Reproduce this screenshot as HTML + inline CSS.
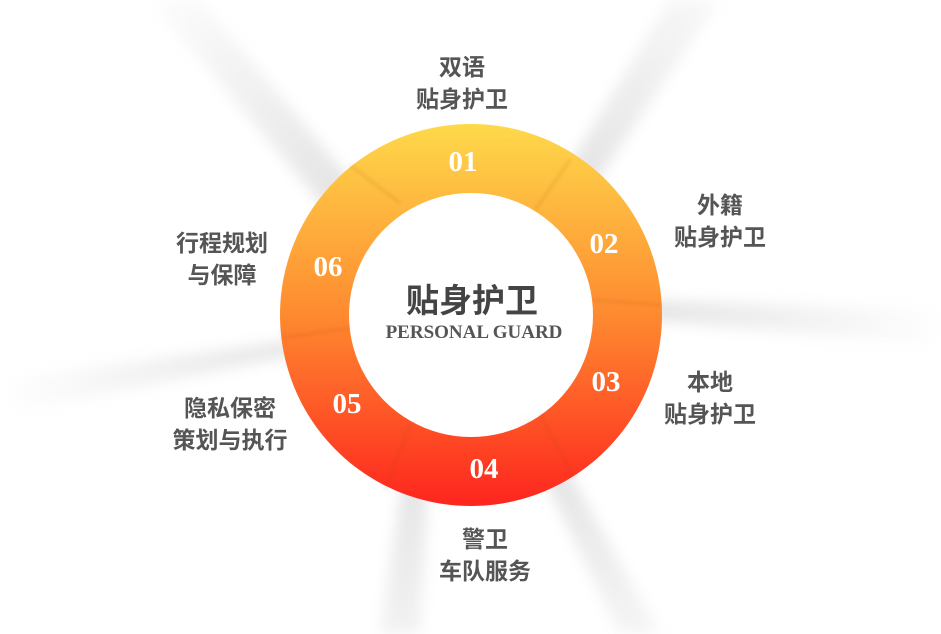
<!DOCTYPE html>
<html><head><meta charset="utf-8"><style>
html,body{margin:0;padding:0;background:#fff;}
.w{position:relative;width:941px;height:634px;overflow:hidden;background:#fff;}
svg{position:absolute;left:0;top:0;}
.l{position:absolute;font-family:"Liberation Sans","Noto Sans CJK SC",sans-serif;font-weight:bold;font-size:23px;color:#555;text-align:center;line-height:32px;transform:translateX(-50%);white-space:nowrap;}
</style></head><body><div class="w">
<svg width="941" height="634" viewBox="0 0 941 634">
<defs>
<filter id="b" x="-50%" y="-50%" width="200%" height="200%"><feGaussianBlur stdDeviation="7"/></filter>
<filter id="b2"><feGaussianBlur stdDeviation="1.5"/></filter>
<radialGradient id="rg" cx="471" cy="315" r="480" gradientUnits="userSpaceOnUse">
<stop offset="0.35" stop-color="#fff"/><stop offset="1" stop-color="#000"/></radialGradient>
<mask id="m"><rect width="941" height="634" fill="url(#rg)"/></mask>
<linearGradient id="g" x1="0" y1="0" x2="0" y2="1">
<stop offset="0" stop-color="#fed94a"/><stop offset="0.5" stop-color="#fe8a30"/><stop offset="1" stop-color="#fe251e"/></linearGradient>
</defs>
<g mask="url(#m)"><g filter="url(#b)" fill="#c4c4c4" opacity="0.45">
<polygon points="380,215 200,0 150,0 340,225"/>
<polygon points="545,205 670,0 720,0 570,220"/>
<polygon points="655,300 941,310 941,345 645,320"/>
<polygon points="540,420 660,634 620,634 520,430"/>
<polygon points="410,430 380,634 420,634 430,440"/>
<polygon points="330,335 0,380 0,415 320,350"/>
</g></g>
<path fill-rule="evenodd" fill="url(#g)" d="M471,124a191,191 0 1,0 0.01,0zM471,193a122,122 0 1,0 0.01,0z"/>
<g stroke="#a04010" stroke-width="3" opacity="0.12" filter="url(#b2)">
<line x1="400" y1="203" x2="350" y2="165"/>
<line x1="535" y1="210" x2="570" y2="160"/>
<line x1="592" y1="300" x2="662" y2="305"/>
<line x1="540" y1="415" x2="575" y2="478"/>
<line x1="410" y1="425" x2="385" y2="490"/>
<line x1="350" y1="328" x2="282" y2="338"/>
</g>
<g font-family="Liberation Serif,serif" font-weight="bold" font-size="29" fill="#fff" text-anchor="middle">
<text x="463" y="171">01</text><text x="604" y="253">02</text><text x="606" y="391">03</text>
<text x="484" y="478">04</text><text x="347" y="413">05</text><text x="328" y="276">06</text>
</g>
<text x="472" y="312" text-anchor="middle" font-family="Liberation Sans,Noto Sans CJK SC,sans-serif" font-weight="bold" font-size="33" fill="#444">贴身护卫</text>
<text x="474" y="338" text-anchor="middle" font-family="Liberation Serif,serif" font-weight="bold" font-size="19" fill="#555">PERSONAL GUARD</text>
</svg>
<div class="l" style="left:462px;top:51px">双语<br>贴身护卫</div>
<div class="l" style="left:720px;top:189px">外籍<br>贴身护卫</div>
<div class="l" style="left:710px;top:366px">本地<br>贴身护卫</div>
<div class="l" style="left:485px;top:523px">警卫<br>车队服务</div>
<div class="l" style="left:230px;top:392px">隐私保密<br>策划与执行</div>
<div class="l" style="left:222px;top:227px">行程规划<br>与保障</div>
</div></body></html>
